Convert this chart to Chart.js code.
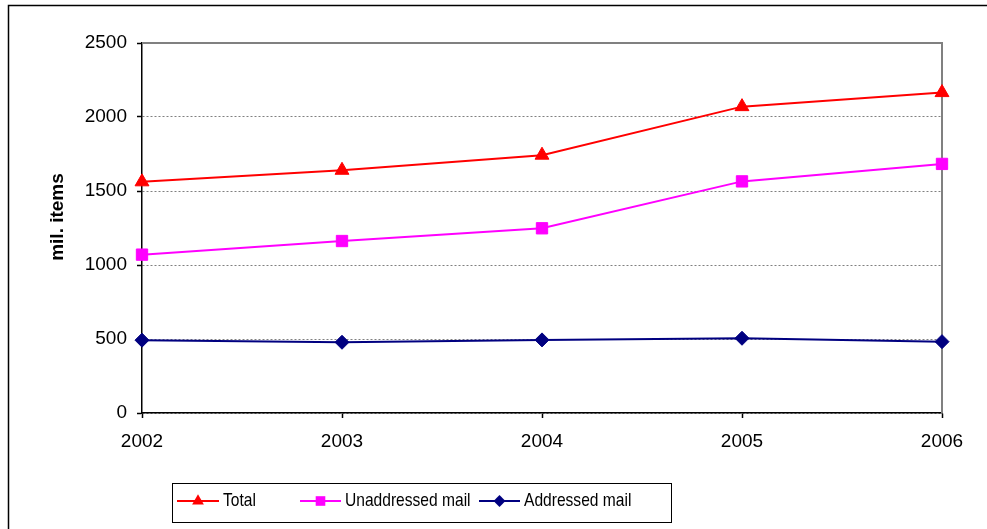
<!DOCTYPE html>
<html>
<head>
<meta charset="utf-8">
<script src="https://cdn.jsdelivr.net/npm/chart.js@4/dist/chart.umd.min.js"></script>
<style>
  html, body { margin: 0; padding: 0; background: #fff; }
  #c { display: block; }
</style>
</head>
<body>
<canvas id="c" width="987" height="529"></canvas>
<script>
// Mail volumes, million items
const years = ['2002', '2003', '2004', '2005', '2006'];
const total = [1562, 1640, 1742, 2070, 2165];
const unaddressed = [1070, 1162, 1248, 1565, 1683];
const addressed = [492, 478, 494, 505, 482];
const yTicks = [0, 500, 1000, 1500, 2000, 2500];
const seriesNames = ['Total', 'Unaddressed mail', 'Addressed mail'];
const axisTitle = 'mil. items';

const FONT = "'Liberation Sans', Arial, sans-serif";

function drawMarker(ctx, style, x, y, r, color) {
  ctx.save();
  ctx.fillStyle = color;
  ctx.beginPath();
  if (style === 'triangle') {
    ctx.moveTo(x, y - r);
    ctx.lineTo(x + r * 0.866, y + r * 0.5);
    ctx.lineTo(x - r * 0.866, y + r * 0.5);
  } else if (style === 'rect') {
    const h = r * 0.707;
    ctx.rect(x - h, y - h, 2 * h, 2 * h);
  } else {
    ctx.moveTo(x, y - r);
    ctx.lineTo(x + r, y);
    ctx.lineTo(x, y + r);
    ctx.lineTo(x - r, y);
  }
  ctx.closePath();
  ctx.fill();
  ctx.restore();
}

// Frame around the whole figure, plot-area outline and rotated axis title
const framePlugin = {
  id: 'frame',
  beforeDraw(chart) {
    const ctx = chart.ctx;
    ctx.save();
    ctx.fillStyle = '#fff';
    ctx.fillRect(0, 0, chart.width, chart.height);
    ctx.strokeStyle = '#000';
    ctx.lineWidth = 1.5;
    ctx.strokeRect(8.5, 5.5, 1200, 1200);
    ctx.restore();
  },
  beforeDatasetsDraw(chart) {
    const { ctx, chartArea: a } = chart;
    ctx.save();
    ctx.strokeStyle = '#808080';
    ctx.lineWidth = 2;
    ctx.beginPath();
    ctx.moveTo(a.left, a.top);
    ctx.lineTo(a.right, a.top);
    ctx.lineTo(a.right, a.bottom);
    ctx.stroke();
    ctx.restore();
  },
  afterDraw(chart) {
    const ctx = chart.ctx;
    ctx.save();
    ctx.translate(58, 217);
    ctx.rotate(-Math.PI / 2);
    ctx.fillStyle = '#000';
    ctx.font = "bold 19px " + FONT;
    ctx.textAlign = 'center';
    ctx.textBaseline = 'middle';
    ctx.fillText(axisTitle, 0, 0);
    ctx.restore();
  }
};

// Boxed legend below the plot (condensed text)
const legendPlugin = {
  id: 'boxLegend',
  afterDraw(chart) {
    const ctx = chart.ctx;
    const box = { x: 172.5, y: 483.5, w: 499, h: 39 };
    const items = [
      { x0: 177, x1: 219, tx: 223 },
      { x0: 300, x1: 341, tx: 345 },
      { x0: 479, x1: 520, tx: 524 }
    ];
    const cy = 501;
    ctx.save();
    ctx.strokeStyle = '#000';
    ctx.lineWidth = 1;
    ctx.strokeRect(box.x, box.y, box.w, box.h);
    chart.data.datasets.forEach((ds, i) => {
      const it = items[i];
      ctx.strokeStyle = ds.borderColor;
      ctx.lineWidth = 2;
      ctx.beginPath();
      ctx.moveTo(it.x0, cy);
      ctx.lineTo(it.x1, cy);
      ctx.stroke();
      drawMarker(ctx, ds.pointStyle, (it.x0 + it.x1) / 2, cy, ds.pointRadius * 0.85, ds.backgroundColor);
      ctx.save();
      ctx.translate(it.tx, cy);
      ctx.scale(0.82, 1);
      ctx.fillStyle = '#000';
      ctx.font = "19px " + FONT;
      ctx.textAlign = 'left';
      ctx.textBaseline = 'middle';
      ctx.fillText(ds.label, 0, 0);
      ctx.restore();
    });
    ctx.restore();
  }
};

const mk = (label, data, color, style, radius) => ({
  label, data,
  borderColor: color,
  backgroundColor: color,
  borderWidth: 2,
  pointStyle: style,
  pointRadius: radius,
  pointHoverRadius: radius,
  pointBorderWidth: 1,
  tension: 0,
  clip: false
});

new Chart(document.getElementById('c'), {
  type: 'line',
  data: {
    labels: years,
    datasets: [
      mk(seriesNames[0], total, '#FF0000', 'triangle', 8),
      mk(seriesNames[1], unaddressed, '#FF00FF', 'rect', 8),
      mk(seriesNames[2], addressed, '#000080', 'rectRot', 7)
    ]
  },
  options: {
    responsive: false,
    animation: false,
    events: [],
    layout: { padding: { left: 42, right: 45, top: 43, bottom: 56 } },
    plugins: { legend: { display: false }, tooltip: { enabled: false } },
    scales: {
      x: {
        type: 'category',
        offset: false,
        grid: { drawOnChartArea: false, drawTicks: true, tickLength: 5, tickColor: '#000', tickWidth: 1.5 },
        border: { color: '#000', width: 1.5 },
        ticks: { color: '#000', font: { family: FONT, size: 19 }, padding: 12, maxRotation: 0, autoSkip: false },
        afterFit: s => { s.height = 60; }
      },
      y: {
        min: yTicks[0],
        max: yTicks[yTicks.length - 1],
        afterBuildTicks: s => { s.ticks = yTicks.map(v => ({ value: v })); },
        grid: { color: '#808080', lineWidth: 1, tickColor: '#000', tickLength: 5, tickWidth: 1.5, tickBorderDash: [] },
        border: { color: '#000', width: 1.5, dash: [2, 2] },
        ticks: { color: '#000', font: { family: FONT, size: 19 }, padding: 10, callback: v => String(v) },
        afterFit: s => { s.width = 100; }
      }
    }
  },
  plugins: [framePlugin, legendPlugin]
});
</script>
</body>
</html>
